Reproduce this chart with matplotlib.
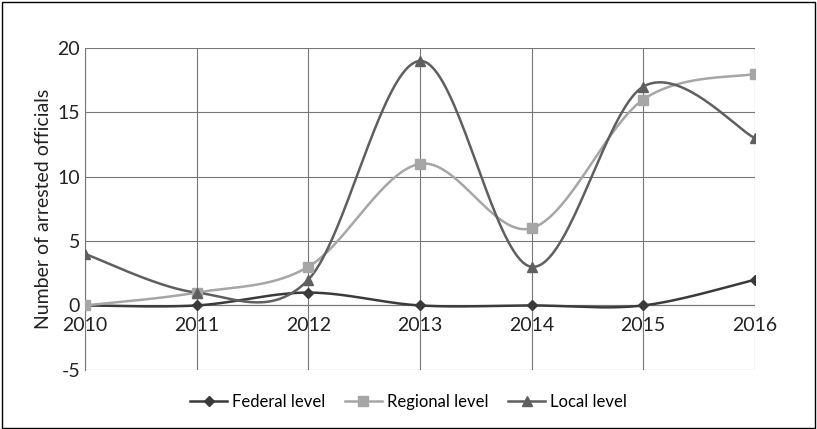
import numpy as np
import matplotlib
matplotlib.use("Agg")
from matplotlib import pyplot as plt
from matplotlib.patches import Rectangle

years = [2010, 2011, 2012, 2013, 2014, 2015, 2016]
federal = [0, 0, 1, 0, 0, 0, 2]
regional = [0, 1, 3, 11, 6, 16, 18]
local = [4, 1, 2, 19, 3, 17, 13]


def smooth(xs, ys, n=40):
    # Excel-like smoothed line: Catmull-Rom through the points as cubic Bezier
    xs = np.asarray(xs, float); ys = np.asarray(ys, float)
    px = np.concatenate([[xs[0]], xs, [xs[-1]]])
    py = np.concatenate([[ys[0]], ys, [ys[-1]]])
    t = np.linspace(0, 1, n)[:, None]
    ox, oy = [], []
    for i in range(1, len(px) - 2):
        p0 = np.array([px[i], py[i]]); p3 = np.array([px[i + 1], py[i + 1]])
        c1 = p0 + (np.array([px[i + 1], py[i + 1]]) - np.array([px[i - 1], py[i - 1]])) / 6
        c2 = p3 - (np.array([px[i + 2], py[i + 2]]) - np.array([px[i], py[i]])) / 6
        b = (1 - t) ** 3 * p0 + 3 * (1 - t) ** 2 * t * c1 + 3 * (1 - t) * t ** 2 * c2 + t ** 3 * p3
        ox.extend(b[:, 0]); oy.extend(b[:, 1])
    return ox, oy


plt.rcParams['font.family'] = ['Lato', 'DejaVu Sans']
plt.rcParams['axes.unicode_minus'] = False
fig = plt.figure(figsize=(8.17, 4.29), dpi=100)
ax = fig.add_axes([0.104, 0.138, 0.82, 0.75])

series = [(federal, 'Federal level', '#3a3a3a', 'D', 5),
          (regional, 'Regional level', '#a6a6a6', 's', 7),
          (local, 'Local level', '#5f5f5f', '^', 7)]
for vals, name, col, mk, ms in series:
    sx, sy = smooth(years, vals)
    ax.plot(sx, sy, color=col, lw=1.8, zorder=3)
    ax.plot(years, vals, ls='none', marker=mk, ms=ms, color=col, zorder=4)
    ax.plot([], [], color=col, lw=1.8, marker=mk, ms=ms, label=name)

ax.set_xlim(2010, 2016)
ax.set_ylim(-5, 20)
ax.set_yticks([-5, 0, 5, 10, 15, 20])
ax.set_xticks(years)
ax.grid(True, color='#777777', lw=0.8)
ax.set_axisbelow(True)
for s in ax.spines.values():
    s.set_visible(False)
ax.spines['left'].set_visible(True)
ax.spines['left'].set_color('#777777')
ax.axhline(0, color='#777777', lw=0.8)
ax.tick_params(length=0, labelsize=14, colors='#222222')
ax.tick_params(axis='x', pad=-38)
ax.set_ylabel('Number of arrested officials', fontsize=14, color='#222222')

fig.legend(loc='lower center', bbox_to_anchor=(0.5, 0.01), ncol=3, frameon=False,
           fontsize=12, handlelength=2.2, columnspacing=1.2, handletextpad=0.3)
fig.add_artist(Rectangle((0.002, 0.003), 0.995, 0.993, transform=fig.transFigure,
                         fill=False, ec='black', lw=1))
fig.savefig('out.png', dpi=100)
